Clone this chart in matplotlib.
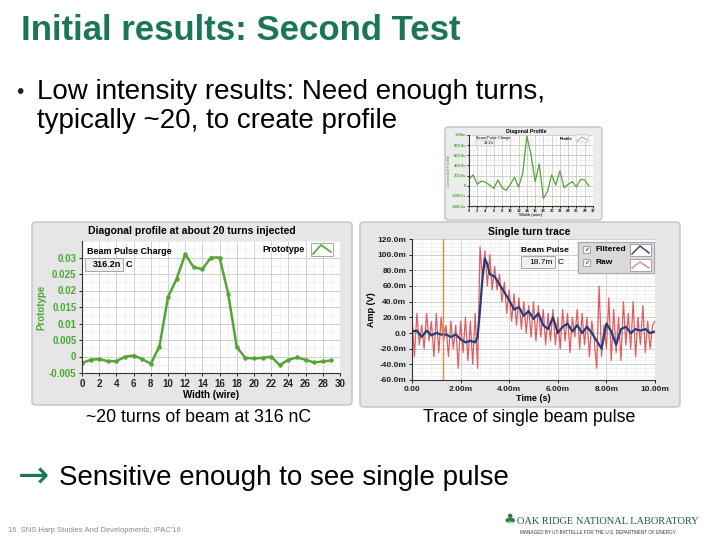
import matplotlib.pyplot as plt
import numpy as np
from matplotlib.patches import FancyBboxPatch, Rectangle
from matplotlib.lines import Line2D
from matplotlib.ticker import MultipleLocator, FuncFormatter

W, H = 720, 540

# diagonal profile after ~20 turns (left panel)
wire = list(range(30))
profile_20 = [-0.0020, -0.0010, -0.0008, -0.0014, -0.0014, -0.0001, 0.0003, -0.0008, -0.0022, 0.0030,
              0.0180, 0.0235, 0.0310, 0.0270, 0.0265, 0.0300, 0.0300, 0.0190, 0.0028, -0.0004,
              -0.0006, -0.0004, -0.0001, -0.0026, -0.0010, -0.0003, -0.0010, -0.0018, -0.0015, -0.0012]

# single-pulse diagonal profile (small panel), micro-units
profile_1 = [127, 213, 27, 93, 67, 13, -53, 113, -40, -93,
             27, 167, -27, 247, 980, 613, 80, 427, -253, -107,
             213, 13, 293, -40, 27, 80, -27, 127, 113, 0]

# single turn trace (right panel), time in ms, amplitude in mV
raw_mv = [20, -30, 25, -15, 10, -20, 25, -10, 15, -30,
          25, -25, 20, -10, 10, -30, 15, -20, 10, -45,
          15, -25, 20, -35, 15, -40, 25, -45, 110, 70,
          105, 60, 100, 55, 85, 55, 75, 40, 65, 25,
          55, 15, 50, 10, 45, 5, 40, 0, 35, -5,
          40, -10, 35, -5, 30, -15, 25, -10, 30, -15,
          20, -20, 30, -10, 25, -25, 20, -5, 30, -20,
          25, -15, 20, -30, 15, -10, -45, 60, -30, 10,
          -20, 45, -35, 30, -25, 20, -35, 40, -15, 25,
          -20, 40, -30, 20, -15, 35, -25, 15, -20, 10, 15]
filt_t = [0, 0.2, 0.4, 0.6, 0.8, 1.0, 1.2, 1.4, 1.6, 1.8, 2.0, 2.2, 2.4, 2.6,
          2.7, 2.8, 2.9, 3.0, 3.1, 3.2,
          3.4, 3.6, 3.8, 4.0, 4.2, 4.4, 4.6, 4.8, 5.0, 5.2,
          5.4, 5.6, 5.8, 6.0, 6.2, 6.4, 6.6, 6.8, 7.0, 7.2,
          7.4, 7.6, 7.8, 8.0, 8.2, 8.4, 8.6, 8.8, 9.0, 9.2,
          9.4, 9.6, 9.8, 10.0]
filt_mv = [2, 3, -5, 3, -3, 0, -2, -2, -5, -2, -8, -12, -10, -12,
           -5, 30, 70, 95, 88, 75,
           72, 62, 52, 42, 30, 33, 22, 28, 18, 25,
           10, 5, 20, 0, 8, 12, 2, 10, 0, 8,
           0, -10, -20, 12, 2, -15, 5, 8, 0, 5,
           3, 5, 0, 2]
raw_t = np.linspace(0, 10, len(raw_mv))

GREEN_T = '#1b7658'
GRID_MAJ = '#cfcfcf'
GRID_MIN = '#ececec'
LINE_G = '#56a436'
TICK_G = '#4aa832'


def rect(x0, y0, x1, y1):
    return [x0 / W, 1 - y1 / H, (x1 - x0) / W, (y1 - y0) / H]


def ftext(x, y, s, **kw):
    return fig.text(x / W, 1 - y / H, s, **kw)


def frame(x0, y0, x1, y1, fc='#e6e6e6'):
    p = FancyBboxPatch((x0 / W, 1 - y1 / H), (x1 - x0) / W, (y1 - y0) / H,
                       boxstyle='round,pad=0,rounding_size=0.006', transform=fig.transFigure,
                       fc=fc, ec='#c2c2c2', lw=1, zorder=-1)
    fig.patches.append(p)


def box(x0, y0, x1, y1, fc='white', ec='#9a9a9a', lw=0.6):
    fig.patches.append(Rectangle((x0 / W, 1 - y1 / H), (x1 - x0) / W, (y1 - y0) / H,
                                 transform=fig.transFigure, fc=fc, ec=ec, lw=lw, zorder=5))


def glyph(pts, color, lw=1.0):
    xs = [p[0] / W for p in pts]
    ys = [1 - p[1] / H for p in pts]
    fig.lines.append(Line2D(xs, ys, transform=fig.transFigure, color=color, lw=lw, zorder=6))


def style_graph(ax, fs=6.5):
    ax.set_facecolor('white')
    for s in ['top', 'right']:
        ax.spines[s].set_visible(False)
    for s in ['left', 'bottom']:
        ax.spines[s].set_color('#333333')
        ax.spines[s].set_linewidth(0.8)
    ax.grid(True, which='major', color=GRID_MAJ, lw=0.7)
    ax.grid(True, which='minor', color=GRID_MIN, lw=0.5)
    ax.set_axisbelow(True)
    ax.tick_params(which='major', length=2.5, width=0.7, labelsize=fs, pad=1.5, colors='#222222')
    ax.tick_params(which='minor', length=0)
    for lab in ax.get_xticklabels() + ax.get_yticklabels():
        lab.set_fontweight('bold')


plt.rcParams['font.family'] = ['Liberation Sans', 'DejaVu Sans']
fig = plt.figure(figsize=(7.2, 5.4), dpi=100)
fig.patch.set_facecolor('white')

# slide text
ftext(21, 30, 'Initial results: Second Test', fontsize=25, fontweight='bold', color=GREEN_T, va='center')
ftext(16, 92, '•', fontsize=15, va='center', color='#222222')
ftext(37, 92, 'Low intensity results: Need enough turns,', fontsize=20, va='center', color='black')
ftext(37, 121, 'typically ~20, to create profile', fontsize=20, va='center', color='black')
ftext(199, 417, '~20 turns of beam at 316 nC', fontsize=12.8, ha='center', va='center')
ftext(529, 417, 'Trace of single beam pulse', fontsize=12.8, ha='center', va='center')
ftext(18, 477, '→', fontsize=27, va='center', color=GREEN_T, family=['DejaVu Sans'])
ftext(59, 478, 'Sensitive enough to see single pulse', fontsize=20, va='center')
ftext(8, 530, "16  SNS Harp Studies And Developments, IPAC'16", fontsize=5.5, va='center', color='#8a8a8a')
ftext(503, 520, '♣', fontsize=10, va='center', color='#2e7d3a', family=['DejaVu Sans'])
ftext(517, 521, 'OAK RIDGE NATIONAL LABORATORY', fontsize=7.5, va='center', color='#1f5c3c',
      family=['Liberation Serif'])
ftext(520, 533, 'MANAGED BY UT-BATTELLE FOR THE U.S. DEPARTMENT OF ENERGY', fontsize=3.3, va='center',
      color='#333333')

# ---- left panel: diagonal profile at ~20 turns ----
frame(32, 222, 352, 405)
ax1 = fig.add_axes(rect(82, 241, 340, 373))
ax1.plot(wire, profile_20, color=LINE_G, lw=1.8, marker='o', ms=2.2)
ax1.set_xlim(0, 30)
ax1.set_ylim(-0.005, 0.035)
ax1.set_xticks(range(0, 31, 2))
ax1.set_yticks([-0.005, 0, 0.005, 0.01, 0.015, 0.02, 0.025, 0.03])
ax1.set_yticklabels(['-0.005', '0', '0.005', '0.01', '0.015', '0.02', '0.025', '0.03'])
ax1.xaxis.set_minor_locator(MultipleLocator(1))
ax1.yaxis.set_minor_locator(MultipleLocator(0.0025))
style_graph(ax1, fs=7)
for lab in ax1.get_yticklabels():
    lab.set_color(TICK_G)
ax1.set_xlabel('Width (wire)', fontsize=7, fontweight='bold', labelpad=1)
ax1.set_ylabel('Prototype', fontsize=7, fontweight='bold', color=TICK_G, labelpad=2)
ftext(192, 231, 'Diagonal profile at about 20 turns injected', fontsize=7.5, fontweight='bold',
      ha='center', va='center')
ftext(87, 252, 'Beam Pulse Charge', fontsize=6.5, fontweight='bold', va='center', zorder=7)
box(85, 258, 123, 271, fc='#f0f0f0')
ftext(121, 264.5, '316.2n', fontsize=6.5, fontweight='bold', ha='right', va='center', zorder=7)
ftext(126, 264.5, 'C', fontsize=6.5, fontweight='bold', va='center', zorder=7)
ftext(305, 249, 'Prototype', fontsize=6.5, fontweight='bold', ha='right', va='center', zorder=7)
box(311, 243, 333, 256)
glyph([(313, 254), (321, 245), (331, 252)], LINE_G, lw=1.2)

# ---- right panel: single turn trace ----
frame(360, 222, 680, 407)
ax2 = fig.add_axes(rect(412, 239, 655, 380))
ax2.plot(raw_t, raw_mv, color='#dc4046', lw=0.9, alpha=0.85)
ax2.plot(filt_t, filt_mv, color='#1f3f7a', lw=1.6)
ax2.axvline(1.28, color='#d98c4a', lw=1.0)
ax2.plot([1.28], [5], marker='x', ms=3, color='#d98c4a')
ax2.set_xlim(0, 10)
ax2.set_ylim(-60, 120)
ax2.set_xticks(range(0, 11, 2))
ax2.set_yticks(range(-60, 121, 20))
ax2.xaxis.set_major_formatter(FuncFormatter(lambda v, p: '0.00' if v == 0 else f'{v:.2f}m'))
ax2.yaxis.set_major_formatter(FuncFormatter(lambda v, p: '0.0' if v == 0 else f'{v:.1f}m'))
ax2.xaxis.set_minor_locator(MultipleLocator(0.4))
ax2.yaxis.set_minor_locator(MultipleLocator(5))
style_graph(ax2, fs=6)
ax2.set_xlabel('Time (s)', fontsize=6.5, fontweight='bold', labelpad=1)
ax2.set_ylabel('Amp (V)', fontsize=6.5, fontweight='bold', labelpad=1)
ftext(529, 232, 'Single turn trace', fontsize=7.5, fontweight='bold', ha='center', va='center')
ftext(521, 250, 'Beam Pulse', fontsize=6, fontweight='bold', va='center', zorder=7)
box(521, 256, 555, 268, fc='#f0f0f0')
ftext(553, 262, '18.7m', fontsize=6, ha='right', va='center', zorder=7)
ftext(558, 262, 'C', fontsize=6, va='center', zorder=7)
box(578, 242, 654, 273, fc='#d9d9d9', ec='#a8a8a8', lw=0.8)
box(583, 246, 590, 253, fc='#f4f4f4', ec='#888888', lw=0.5)
box(583, 259, 590, 266, fc='#f4f4f4', ec='#888888', lw=0.5)
ftext(586.5, 249.5, '✓', fontsize=4.5, ha='center', va='center', zorder=7, family=['DejaVu Sans'])
ftext(586.5, 262.5, '✓', fontsize=4.5, ha='center', va='center', zorder=7, family=['DejaVu Sans'])
ftext(595, 249.5, 'Filtered', fontsize=6, fontweight='bold', va='center', zorder=7)
ftext(595, 262.5, 'Raw', fontsize=6, fontweight='bold', va='center', zorder=7)
box(630, 244, 651, 256)
box(630, 259, 651, 271)
glyph([(632, 254), (640, 246), (649, 253)], '#1f3f7a', lw=1.0)
glyph([(632, 268), (640, 262), (649, 268)], '#e07070', lw=0.8)

# ---- small panel: single pulse profile ----
frame(445, 127, 602, 220, fc='#ececec')
ax3 = fig.add_axes(rect(469, 135, 593, 206))
ax3.plot(wire, profile_1, color=LINE_G, lw=0.9)
ax3.set_xlim(0, 30)
ax3.set_ylim(-400, 1000)
ax3.set_xticks(range(0, 31, 2))
ax3.set_yticks(range(-400, 1001, 200))
ax3.set_yticklabels(['-400.0u', '-200.0u', '0', '200.0u', '400.0u', '600.0u', '800.0u', '1.00m'])
ax3.xaxis.set_minor_locator(MultipleLocator(1))
ax3.yaxis.set_minor_locator(MultipleLocator(100))
style_graph(ax3, fs=3)
ax3.tick_params(length=1.2, pad=0.8)
for lab in ax3.get_yticklabels():
    lab.set_color(TICK_G)
ax3.set_xlabel('Width (wire)', fontsize=3.2, labelpad=0.5)
ax3.set_ylabel('Corrected Profile', fontsize=3.2, color=TICK_G, labelpad=0.5)
ftext(526, 131, 'Diagonal Profile', fontsize=3.8, fontweight='bold', ha='center', va='center')
ftext(476, 137.5, 'Beam Pulse Charge', fontsize=2.8, va='center', zorder=7)
box(476, 140, 494, 146, fc='#f0f0f0', lw=0.3)
ftext(493, 143, '18.2n', fontsize=2.8, ha='right', va='center', zorder=7)
ftext(573, 139, 'Profile', fontsize=3, fontweight='bold', ha='right', va='center', zorder=7)
box(576, 135.5, 588, 142, lw=0.3)
glyph([(577, 141), (582, 137), (587, 140)], LINE_G, lw=0.5)

fig.savefig('out.png', dpi=100)
